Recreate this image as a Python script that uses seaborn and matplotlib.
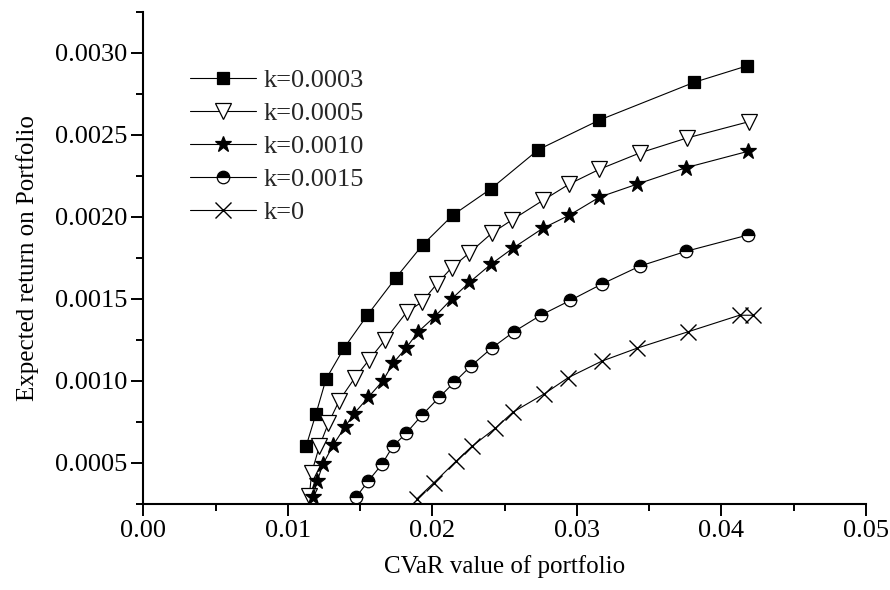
import matplotlib
matplotlib.use("Agg")
import matplotlib.pyplot as plt
import seaborn as sns
from matplotlib.ticker import MultipleLocator, FormatStrFormatter

# k = 0.0003
cvar_k0003 = [0.01126, 0.01195, 0.01264, 0.01389, 0.01550, 0.01749, 0.01934,
              0.02141, 0.02404, 0.02734, 0.03156, 0.03811, 0.04176]
ret_k0003 = [0.00060, 0.00080, 0.00101, 0.00120, 0.00140, 0.00163, 0.00183,
             0.00201, 0.00217, 0.00241, 0.00259, 0.00282, 0.00292]

# k = 0.0005
cvar_k0005 = [0.01149, 0.01165, 0.01218, 0.01280, 0.01356, 0.01465, 0.01564,
              0.01673, 0.01823, 0.01927, 0.02030, 0.02134, 0.02256, 0.02411,
              0.02549, 0.02764, 0.02948, 0.03156, 0.03437, 0.03759, 0.04190]
ret_k0005 = [0.00030, 0.00044, 0.00060, 0.00074, 0.00088, 0.00102, 0.00113,
             0.00125, 0.00142, 0.00148, 0.00159, 0.00169, 0.00178, 0.00190,
             0.00198, 0.00210, 0.00220, 0.00229, 0.00239, 0.00248, 0.00258]

# k = 0.0010
cvar_k0010 = [0.01172, 0.01204, 0.01242, 0.01315, 0.01396, 0.01458, 0.01557,
              0.01657, 0.01730, 0.01818, 0.01903, 0.02015, 0.02134, 0.02256,
              0.02404, 0.02559, 0.02764, 0.02948, 0.03156, 0.03419, 0.03756,
              0.04187]
ret_k0010 = [0.00029, 0.00039, 0.00049, 0.00061, 0.00072, 0.00080, 0.00090,
             0.00100, 0.00111, 0.00120, 0.00130, 0.00139, 0.00150, 0.00160,
             0.00171, 0.00181, 0.00193, 0.00201, 0.00212, 0.00220, 0.00230,
             0.00240]

# k = 0.0015
cvar_k0015 = [0.01472, 0.01557, 0.01650, 0.01726, 0.01818, 0.01927, 0.02048,
              0.02150, 0.02266, 0.02411, 0.02565, 0.02750, 0.02953, 0.03172,
              0.03437, 0.03756, 0.04187]
ret_k0015 = [0.00029, 0.00039, 0.00049, 0.00060, 0.00068, 0.00079, 0.00090,
             0.00099, 0.00109, 0.00120, 0.00130, 0.00140, 0.00149, 0.00159,
             0.00170, 0.00179, 0.00189]

# k = 0
cvar_k0 = [0.01892, 0.02012, 0.02164, 0.02273, 0.02434, 0.02559, 0.02773,
           0.02941, 0.03172, 0.03419, 0.03772, 0.04125, 0.04217]
ret_k0 = [0.00028, 0.00038, 0.00051, 0.00060, 0.00071, 0.00081, 0.00092,
          0.00102, 0.00112, 0.00120, 0.00130, 0.00140, 0.00140]

x_ticks = [0.00, 0.01, 0.02, 0.03, 0.04, 0.05]
y_ticks = [0.0005, 0.0010, 0.0015, 0.0020, 0.0025, 0.0030]

sns.set_theme(style="ticks")
plt.rcParams["font.family"] = ["Liberation Serif", "DejaVu Serif"]

fig = plt.figure(figsize=(8.9, 5.9), dpi=100)
ax = fig.add_axes([0.161, 0.146, 0.812, 0.834])

series = [
    (cvar_k0003, ret_k0003, "k=0.0003", dict(marker="s", markersize=9,
                                              markerfacecolor="black")),
    (cvar_k0005, ret_k0005, "k=0.0005", dict(marker="v", markersize=11,
                                              markerfacecolor="white")),
    (cvar_k0010, ret_k0010, "k=0.0010", dict(marker="*", markersize=12,
                                              markerfacecolor="black")),
    (cvar_k0015, ret_k0015, "k=0.0015", dict(marker="o", markersize=9,
                                              markerfacecolor="black",
                                              fillstyle="top",
                                              markerfacecoloralt="white")),
    (cvar_k0, ret_k0, "k=0", dict(marker="x", markersize=11,
                                  markeredgewidth=1.0)),
]

for xs, ys, lab, mk in series:
    mk.setdefault("markeredgewidth", 0.9)
    sns.lineplot(x=xs, y=ys, ax=ax, sort=False, estimator=None,
                 color="black", linewidth=0.8, markeredgecolor="black",
                 label=lab, **mk)

ax.set_xlim(0.0, 0.05)
ax.set_ylim(0.00025, 0.00325)
ax.set_xticks(x_ticks)
ax.set_yticks(y_ticks)
ax.xaxis.set_minor_locator(MultipleLocator(0.005))
ax.yaxis.set_minor_locator(MultipleLocator(0.00025))
ax.xaxis.set_major_formatter(FormatStrFormatter("%.2f"))
ax.yaxis.set_major_formatter(FormatStrFormatter("%.4f"))

sns.despine(ax=ax)
for side in ["left", "bottom"]:
    ax.spines[side].set_linewidth(1.5)
    ax.spines[side].set_color("black")

ax.tick_params(which="major", direction="out", length=8.3, width=1.4,
               color="black", labelsize=19, labelcolor="black", pad=3)
ax.tick_params(which="minor", direction="out", length=4.8, width=1.4,
               color="black")

ax.set_xlabel("CVaR value of portfolio", fontsize=18, color="black", labelpad=10)
ax.set_ylabel("Expected return on Portfolio", fontsize=18, color="black",
              labelpad=12)

ax.legend(loc="upper left", bbox_to_anchor=(0.064, 0.885), frameon=False,
          fontsize=19, handlelength=2.5, handletextpad=0.3, labelspacing=0.36,
          borderpad=0, borderaxespad=0)

fig.savefig("out.png", dpi=100)
